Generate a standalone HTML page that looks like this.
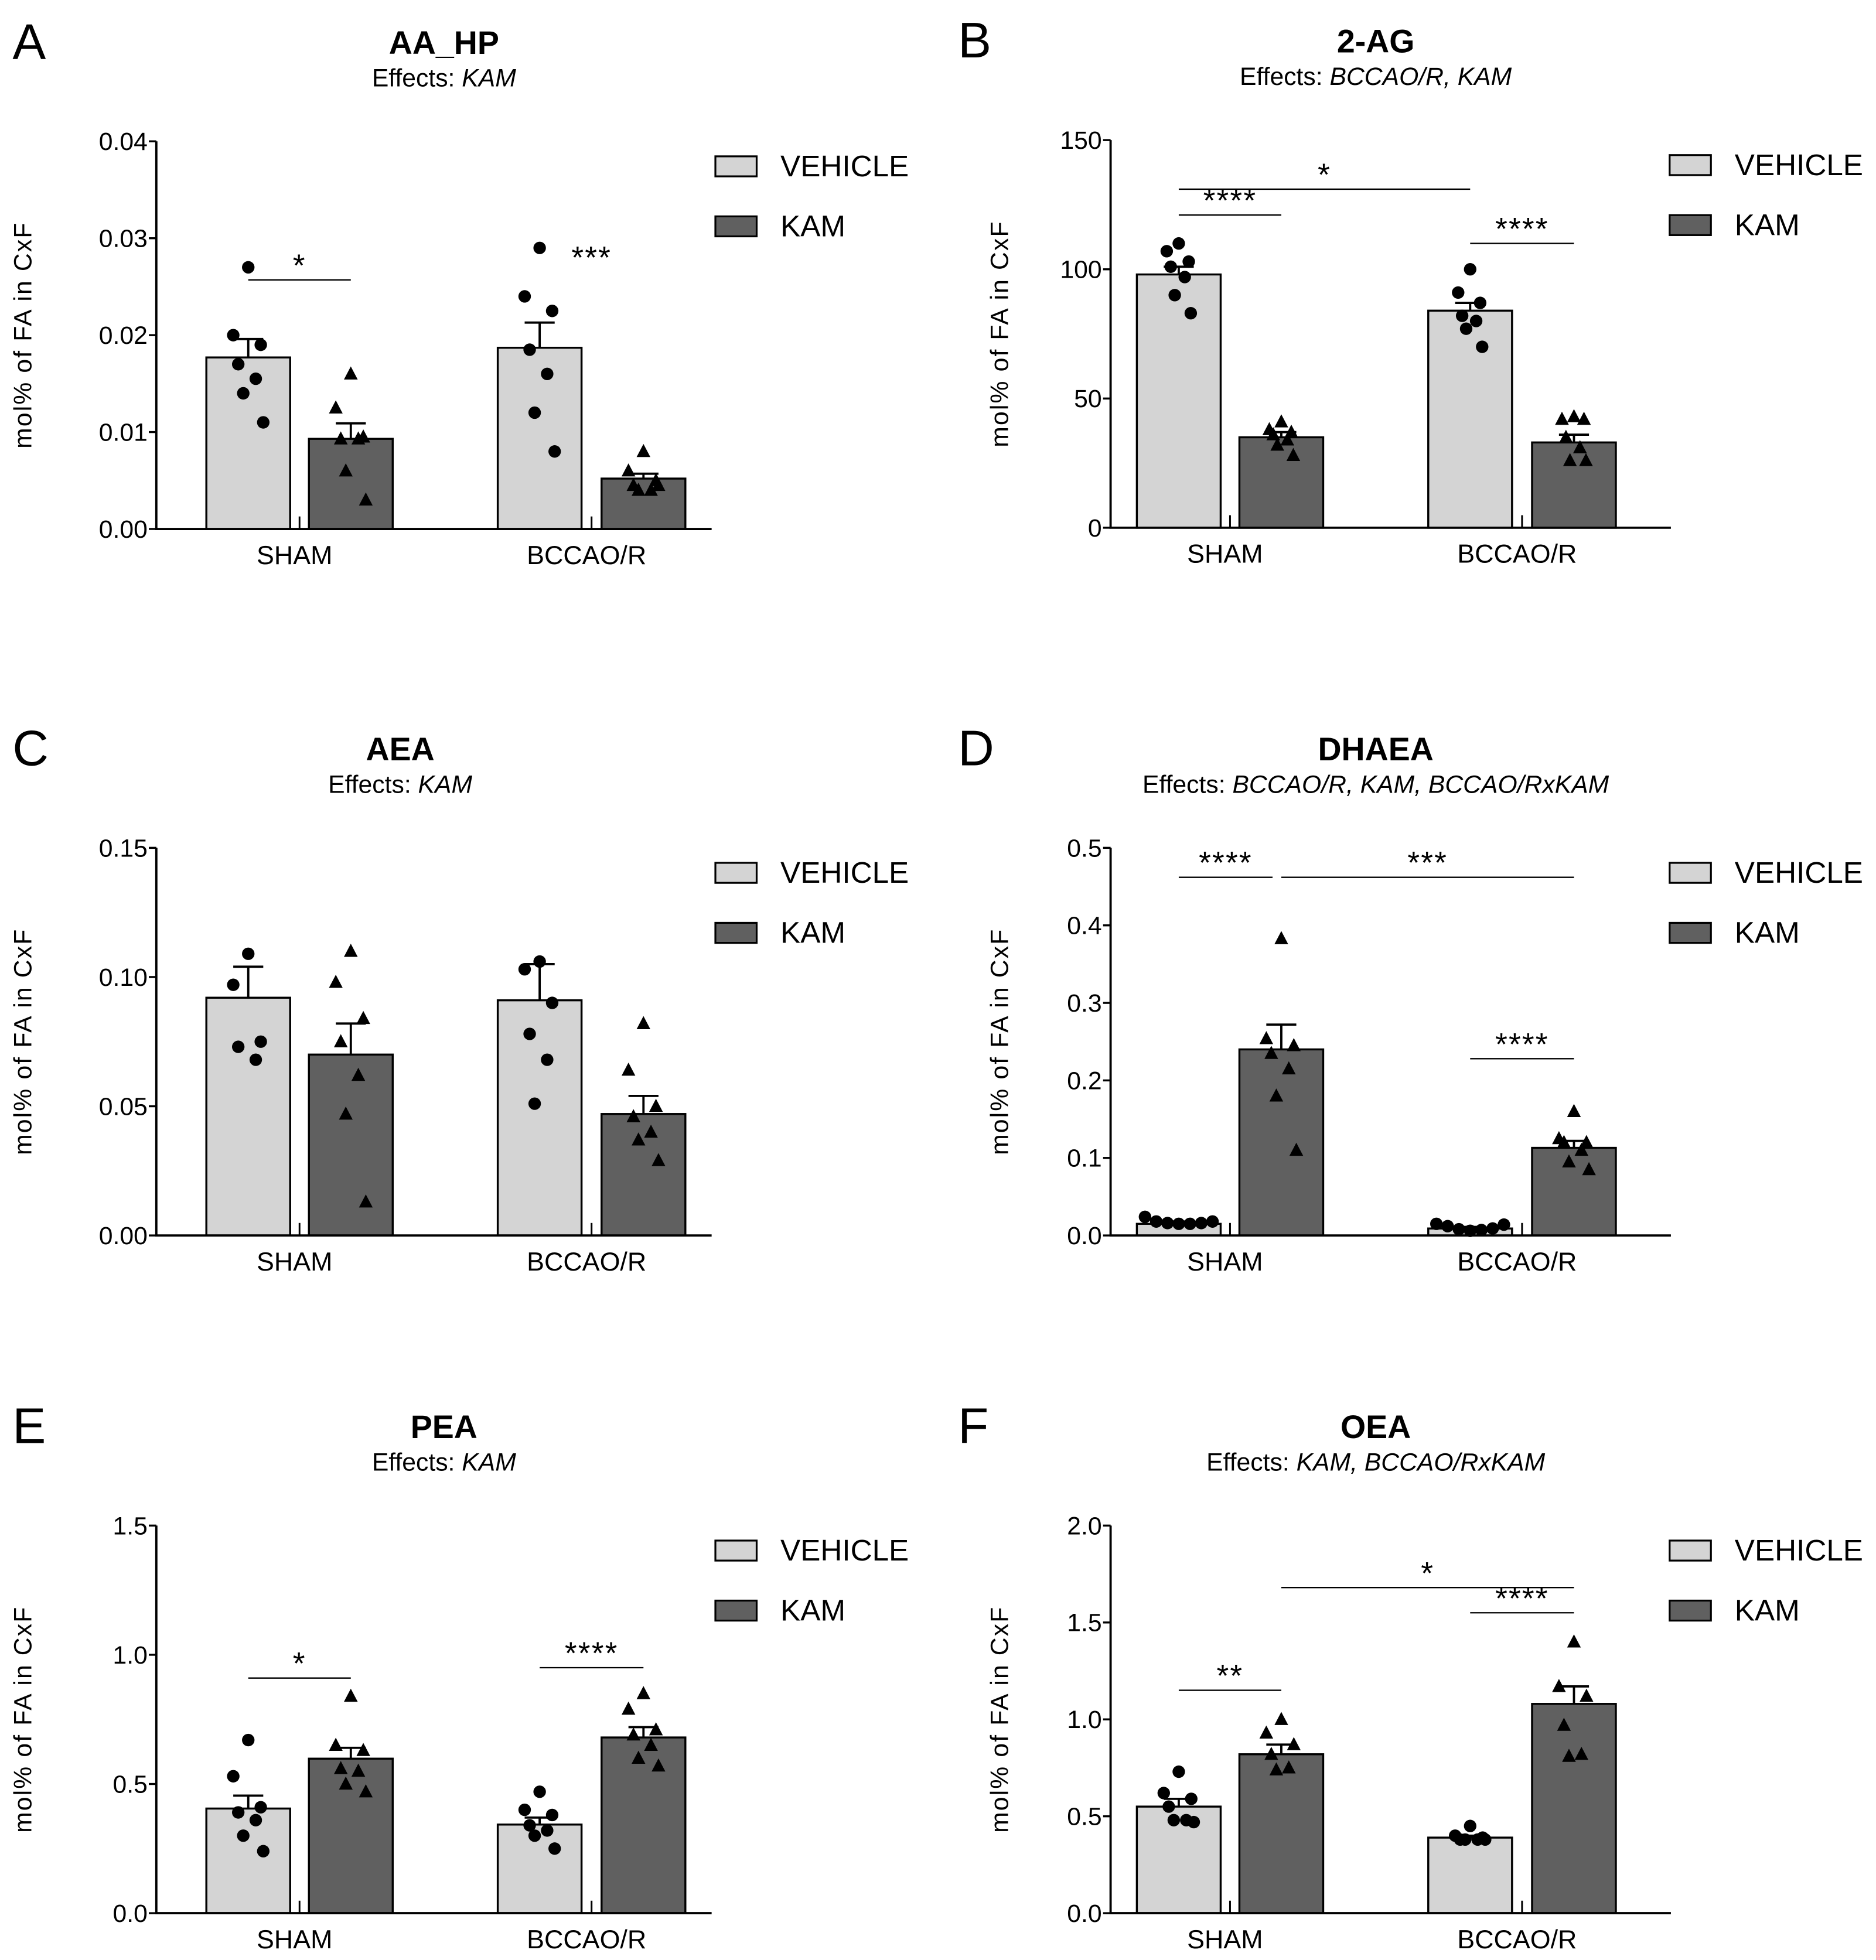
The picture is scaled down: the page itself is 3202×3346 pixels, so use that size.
<!DOCTYPE html>
<html><head><meta charset="utf-8"><style>
html,body{margin:0;padding:0;background:#fff}
svg{display:block}
text{font-family:"Liberation Sans",sans-serif;fill:#000}
</style></head><body>
<svg id="fig" width="3202" height="3346" viewBox="0 0 1500 1567.4" xmlns="http://www.w3.org/2000/svg"></svg>
<script>
const groups = ["SHAM","BCCAO/R"];
const seriesNames = ["VEHICLE","KAM"];
// panel A
const aMeans = [[0.0177,0.0187],[0.0093,0.0052]];
const aSem = [[0.0196,0.0213],[0.0109,0.0057]];
const aPts = [[[0.027,0.020,0.019,0.017,0.0155,0.014,0.011],[0.029,0.024,0.0225,0.0185,0.016,0.012,0.008]],
              [[0.016,0.0125,0.0095,0.0093,0.0093,0.006,0.003],[0.008,0.006,0.005,0.0045,0.004,0.004,0.0045]]];
const aTicks = ["0.00","0.01","0.02","0.03","0.04"];
// panel B
const bMeans = [[98,84],[35,33]];
const bSem = [[101,87],[37,36]];
const bPts = [[[110,107,103,101,97,90,83],[100,91,87,82,80,77,70]],
              [[41,38,37,36,34,32,28],[43,42,42,35,31,26,26]]];
const bTicks = ["0","50","100","150"];
// panel C
const cMeans = [[0.092,0.091],[0.070,0.047]];
const cSem = [[0.104,0.105],[0.082,0.054]];
const cPts = [[[0.109,0.097,0.075,0.073,0.068],[0.106,0.103,0.090,0.078,0.068,0.051]],
              [[0.110,0.098,0.084,0.075,0.062,0.047,0.013],[0.082,0.064,0.050,0.046,0.040,0.037,0.029]]];
const cTicks = ["0.00","0.05","0.10","0.15"];
// panel D
const dMeans = [[0.015,0.009],[0.240,0.113]];
const dSem = [[0.018,0.011],[0.272,0.122]];
const dPts = [[[0.024,0.018,0.016,0.015,0.015,0.016,0.018],[0.015,0.012,0.008,0.006,0.007,0.009,0.014]],
              [[0.383,0.254,0.245,0.235,0.215,0.18,0.11],[0.16,0.125,0.12,0.12,0.11,0.095,0.085]]];
const dTicks = ["0.0","0.1","0.2","0.3","0.4","0.5"];
// panel E
const eMeans = [[0.405,0.343],[0.598,0.68]];
const eSem = [[0.455,0.37],[0.64,0.72]];
const ePts = [[[0.67,0.53,0.41,0.39,0.36,0.30,0.24],[0.47,0.40,0.38,0.34,0.32,0.30,0.25]],
              [[0.84,0.65,0.63,0.56,0.55,0.50,0.47],[0.85,0.79,0.71,0.69,0.65,0.60,0.57]]];
const eTicks = ["0.0","0.5","1.0","1.5"];
// panel F
const fMeans = [[0.55,0.39],[0.82,1.08]];
const fSem = [[0.59,0.40],[0.87,1.17]];
const fPts = [[[0.73,0.62,0.59,0.55,0.48,0.48,0.47],[0.45,0.40,0.39,0.38,0.38,0.38,0.38]],
              [[1.0,0.93,0.87,0.82,0.75,0.74],[1.4,1.17,1.12,0.97,0.82,0.81]]];
const fTicks = ["0.0","0.5","1.0","1.5","2.0"];

const NS="http://www.w3.org/2000/svg";
const svg=document.getElementById('fig');
function mk(tag,attrs,parent,txt){const e=document.createElementNS(NS,tag);for(const k in attrs)e.setAttribute(k,attrs[k]);if(txt!==undefined)e.textContent=txt;(parent||svg).appendChild(e);return e;}

const jit=[0,-12,10,-8,6,-4,12,-10];
function panel(o){
  const g=mk('g',{});
  
  
  const ax=o.x, top=o.top, bot=o.top+310, right=ax+(o.right?448:444);
  const off=o.right?21:40;
  const ymax=parseFloat(o.ticks[o.ticks.length-1]);
  const Y=v=>bot-(v/ymax)*(bot-top);
  const barX=[[ax+off,ax+off+233],[ax+off+82,ax+off+316]];
  const bw=67;
  let t;
  t=mk('text',{x:o.lx,y:o.top-66,'font-size':40},g,o.letter);
  
  t=mk('text',{x:o.tx,y:o.top-70,'font-size':26,'font-weight':'bold','text-anchor':'middle'},g,o.title);
  
  t=mk('text',{x:o.tx,y:o.top-44,'font-size':20,'text-anchor':'middle'},g);
  
  mk('tspan',{},t,'Effects: ');mk('tspan',{'font-style':'italic'},t,o.effects);
  t=mk('text',{x:0,y:0,'font-size':20,'text-anchor':'middle','transform':`translate(${ax-(o.right?82:100)},${(top+bot)/2}) rotate(-90)`,'letter-spacing':'1'},g,'mol% of FA in CxF');
  
  for(let s=0;s<2;s++)for(let k=0;k<2;k++){
    const r=mk('rect',{x:barX[s][k],y:Y(o.means[s][k]),width:bw,height:bot-Y(o.means[s][k]),fill:s?'#606060':'#d4d4d4',stroke:'#000','stroke-width':1.6},g);
    
    
    const cx=barX[s][k]+bw/2;
    const e=mk('path',{d:`M${cx},${Y(o.means[s][k])}V${Y(o.sem[s][k])}M${cx-12},${Y(o.sem[s][k])}H${cx+12}`,stroke:'#000','stroke-width':1.8,fill:'none'},g);
    
    o.pts[s][k].forEach((v,i)=>{
      const px=cx+(o.spread&&s===0?(i-3)*9:jit[i%jit.length]*(o.tight?0.8:1)), py=Y(v);
      let m;
      if(s===0) m=mk('circle',{cx:px,cy:py,r:5,fill:'#000'},g);
      else m=mk('path',{d:`M${px},${py-6}L${px+5.5},${py+4.5}L${px-5.5},${py+4.5}Z`,fill:'#000'},g);
      
    });
  }
  const a=mk('path',{d:`M${ax},${top}V${bot}H${right}`,stroke:'#000','stroke-width':1.8,fill:'none'},g);
  
  o.ticks.forEach(tk=>{
    const v=parseFloat(tk);
    mk('line',{x1:ax-6,x2:ax,y1:Y(v),y2:Y(v),stroke:'#000','stroke-width':1.6},g);
    const tl=mk('text',{x:ax-7,y:Y(v)+7,'font-size':20,'text-anchor':'end'},g,tk);
    
  });
  groups.forEach((gn,k)=>{
    const c=(barX[0][k]+bw+barX[1][k])/2;
    mk('line',{x1:c,x2:c,y1:bot-10,y2:bot,stroke:'#000','stroke-width':1.4},g);
    const tl=mk('text',{x:c-4,y:bot+28,'font-size':21,'text-anchor':'middle'},g,gn);
    
  });
  seriesNames.forEach((n,s)=>{
    const ly=top+12+s*48;
    const lx=o.right?ax+447:ax+447;
    const r=mk('rect',{x:lx,y:ly,width:33,height:16,fill:s?'#606060':'#d4d4d4',stroke:'#000','stroke-width':1.5},g);
    
    const lt=mk('text',{x:lx+52,y:ly+16,'font-size':24},g,n);
    
  });
  (o.sig||[]).forEach(sg=>{
    const c=(s,k)=>barX[s][k]+bw/2;
    const x1=c(sg[0][0],sg[0][1]), x2=c(sg[1][0],sg[1][1])-(sg[5]||0), y=Y(sg[2]);
    if(sg[4]!==false){const l=mk('line',{x1:x1,x2:x2,y1:y,y2:y,stroke:'#000','stroke-width':1.1},g);
      }
    const st=mk('text',{x:(x1+x2)/2,y:y-3,'font-size':25,'text-anchor':'middle','letter-spacing':'1'},g,sg[3]);
    
  });
}
panel({letter:'A',x:125,lx:10,top:113,tx:355,title:'AA_HP',effects:'KAM',means:aMeans,sem:aSem,pts:aPts,ticks:aTicks,
  sig:[[[0,0],[1,0],0.0257,'*'],[[0,1],[1,1],0.0265,'***',false]]});
panel({letter:'B',x:888,lx:766,right:true,top:112,tx:1100,title:'2-AG',effects:'BCCAO/R, KAM',means:bMeans,sem:bSem,pts:bPts,ticks:bTicks,tight:true,
  sig:[[[0,0],[1,0],121,'****'],[[0,1],[1,1],110,'****'],[[0,0],[0,1],131,'*']]});
panel({letter:'C',x:125,lx:10,top:678,tx:320,title:'AEA',effects:'KAM',means:cMeans,sem:cSem,pts:cPts,ticks:cTicks});
panel({letter:'D',x:888,lx:766,right:true,top:678,tx:1100,title:'DHAEA',effects:'BCCAO/R, KAM, BCCAO/RxKAM',means:dMeans,sem:dSem,pts:dPts,ticks:dTicks,spread:true,
  sig:[[[0,0],[1,0],0.462,'****',true,7],[[1,0],[1,1],0.462,'***'],[[0,1],[1,1],0.228,'****']]});
panel({letter:'E',x:125,lx:10,top:1220,tx:355,title:'PEA',effects:'KAM',means:eMeans,sem:eSem,pts:ePts,ticks:eTicks,
  sig:[[[0,0],[1,0],0.91,'*'],[[0,1],[1,1],0.95,'****']]});
panel({letter:'F',x:888,lx:766,right:true,top:1220,tx:1100,title:'OEA',effects:'KAM, BCCAO/RxKAM',means:fMeans,sem:fSem,pts:fPts,ticks:fTicks,
  sig:[[[0,0],[1,0],1.15,'**'],[[0,1],[1,1],1.55,'****'],[[1,0],[1,1],1.68,'*']]});
</script>
</body></html>
